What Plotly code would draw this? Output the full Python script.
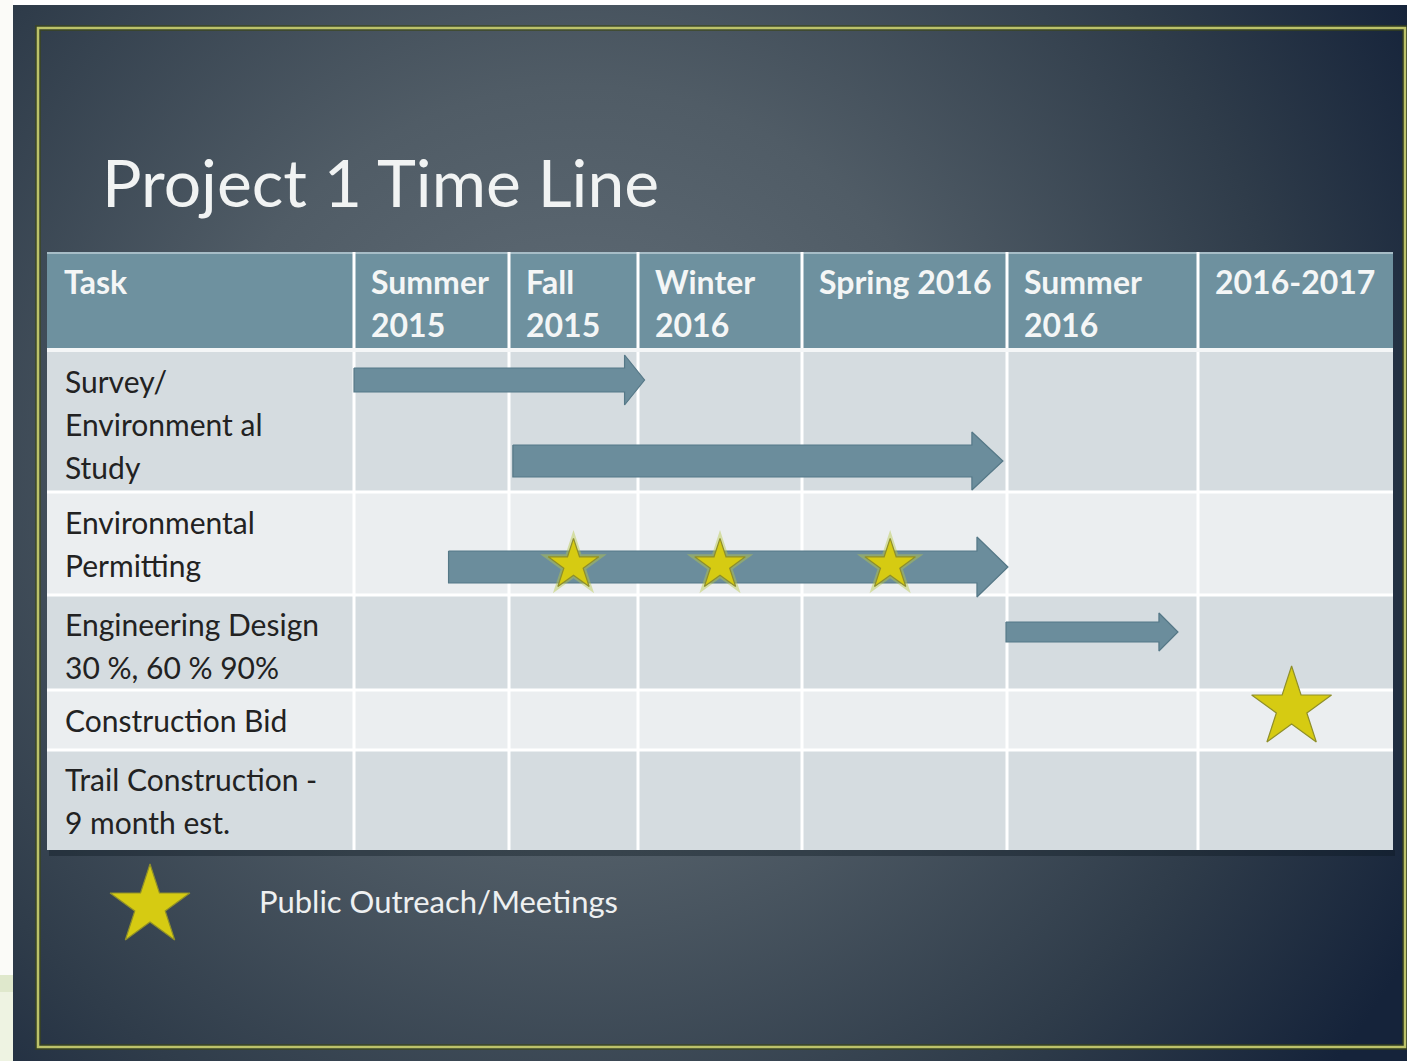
import base64
import plotly.graph_objects as go

# ---------------- data ----------------
title_text = "Project 1 Time Line"
header_task = "Task"
periods = ["Summer<br>2015", "Fall<br>2015", "Winter<br>2016", "Spring 2016", "Summer<br>2016", "2016-2017"]
tasks = [
    "Survey/<br>Environment al<br>Study",
    "Environmental<br>Permitting",
    "Engineering Design<br>30 %, 60 % 90%",
    "Construction Bid",
    "Trail Construction -<br>9 month est.",
]
# arrows: task row index, start period, end period (period units: 0 = start of Summer 2015)
arrow_task = [0, 0, 1, 2]
arrow_start = [0.00, 1.03, 0.61, 3.995]
arrow_end = [2.04, 3.98, 4.005, 4.895]
# stars (public outreach / milestones): task row index, period position
star_task = [1, 1, 1, 3]
star_period = [1.50, 2.50, 3.43, 5.48]
legend_label = "Public Outreach/Meetings"

# ---------------- layout constants (pixels) ----------------
W, H = 1407, 1061
TASK_X0 = 47
COL_EDGES = [354, 509, 638, 802, 1007, 1198, 1393]
HEAD_Y0, HEAD_Y1 = 252, 350
ROW_EDGES = [350, 492, 595, 690, 750, 850]
ROW_COLORS = ["#d5dce0", "#ebeef0", "#d5dce0", "#ebeef0", "#d5dce0"]
ROW_FIRST_LINE_Y = [381, 522, 624, 720, 779]
LINE_STEP = 43
HEAD_LINE_Y = [281, 324]

ARROW_YC = [380, 461, 567, 632]
ARROW_SHAFT = [12, 16, 16, 10]
ARROW_HEAD = [25, 29, 30, 19]
ARROW_HLEN = [20, 31, 31, 19]
STAR_Y = [565, 565, 565, 708]
STAR_SIZE = [38, 38, 38, 60]

ARROW_FILL = "#6b8d9c"
ARROW_LINE = "#557887"
STAR_FILL = "#d6cb12"
STAR_LINE = "#8f8f2a"
FONT = "Lato"


def period_x(p):
    i = min(int(p), len(COL_EDGES) - 2)
    f = p - i
    return COL_EDGES[i] + f * (COL_EDGES[i + 1] - COL_EDGES[i])


fig = go.Figure()

# background gradient (slide look)
svg = f"""<svg xmlns='http://www.w3.org/2000/svg' width='{W}' height='{H}' viewBox='0 0 {W} {H}' preserveAspectRatio='none'>
<defs><radialGradient id='g' gradientUnits='userSpaceOnUse' cx='580' cy='470' r='960'>
<stop offset='0' stop-color='#64707a'/><stop offset='0.4' stop-color='#505c66'/>
<stop offset='0.75' stop-color='#2f3c4a'/><stop offset='1' stop-color='#15233a'/></radialGradient></defs>
<rect x='0' y='0' width='{W}' height='{H}' fill='url(#g)'/></svg>"""
src = "data:image/svg+xml;base64," + base64.b64encode(svg.encode()).decode()
fig.add_layout_image(source=src, xref="paper", yref="paper", x=0, y=1, sizex=1, sizey=1,
                     sizing="stretch", layer="below", xanchor="left", yanchor="top")

shapes = []
# white edges and corner tint
shapes.append(dict(type="rect", x0=0, x1=W, y0=0, y1=5, fillcolor="white", line_width=0, layer="below"))
shapes.append(dict(type="rect", x0=0, x1=13, y0=0, y1=H, fillcolor="#fbfbf8", line_width=0, layer="below"))
shapes.append(dict(type="rect", x0=0, x1=13, y0=975, y1=992, fillcolor="#dfe8cc", line_width=0, layer="below"))
shapes.append(dict(type="rect", x0=0, x1=13, y0=992, y1=H, fillcolor="#eef3e2", line_width=0, layer="below"))
# yellow frame (with soft olive glow)
shapes.append(dict(type="rect", x0=38, x1=1405, y0=28, y1=1047, fillcolor="rgba(0,0,0,0)",
                   line=dict(color="rgba(60,70,20,0.6)", width=6), layer="below"))
shapes.append(dict(type="rect", x0=38, x1=1405, y0=28, y1=1047, fillcolor="rgba(0,0,0,0)",
                   line=dict(color="#bcc26a", width=2.5), layer="below"))
# table shadow
shapes.append(dict(type="rect", x0=TASK_X0 + 2, x1=COL_EDGES[-1] + 2, y0=ROW_EDGES[-1], y1=ROW_EDGES[-1] + 6,
                   fillcolor="rgba(10,20,30,0.35)", line_width=0, layer="below"))
# header
shapes.append(dict(type="rect", x0=TASK_X0, x1=COL_EDGES[-1], y0=HEAD_Y0, y1=HEAD_Y1,
                   fillcolor="#6e919f", line_width=0, layer="below"))
shapes.append(dict(type="line", x0=TASK_X0, x1=COL_EDGES[-1], y0=HEAD_Y0 + 1, y1=HEAD_Y0 + 1,
                   line=dict(color="#a7bdc7", width=2), layer="below"))
# rows
for r in range(len(tasks)):
    shapes.append(dict(type="rect", x0=TASK_X0, x1=COL_EDGES[-1], y0=ROW_EDGES[r], y1=ROW_EDGES[r + 1],
                       fillcolor=ROW_COLORS[r], line_width=0, layer="below"))
# separators
for xe in COL_EDGES[:-1]:
    shapes.append(dict(type="line", x0=xe, x1=xe, y0=HEAD_Y0, y1=ROW_EDGES[-1],
                       line=dict(color="white", width=3), layer="below"))
shapes.append(dict(type="line", x0=TASK_X0, x1=COL_EDGES[-1], y0=HEAD_Y1, y1=HEAD_Y1,
                   line=dict(color="#f4f6f7", width=4), layer="below"))
for ye in ROW_EDGES[1:-1]:
    shapes.append(dict(type="line", x0=TASK_X0, x1=COL_EDGES[-1], y0=ye, y1=ye,
                       line=dict(color="white", width=3), layer="below"))

# arrows
for k in range(len(arrow_task)):
    x0 = period_x(arrow_start[k])
    x1 = period_x(arrow_end[k])
    yc, hs, hh, L = ARROW_YC[k], ARROW_SHAFT[k], ARROW_HEAD[k], ARROW_HLEN[k]
    xs = [x0, x1 - L, x1 - L, x1, x1 - L, x1 - L, x0, x0]
    ys = [yc - hs, yc - hs, yc - hh, yc, yc + hh, yc + hs, yc + hs, yc - hs]
    fig.add_trace(go.Scatter(x=xs, y=ys, mode="lines", fill="toself", fillcolor=ARROW_FILL,
                             line=dict(color=ARROW_LINE, width=1.2), hoverinfo="skip", showlegend=False))

# stars (each drawn as its own opaque marker)
for i, p in enumerate(star_period):
    x = period_x(p)
    if STAR_SIZE[i] < 50:
        fig.add_trace(go.Scatter(x=[x], y=[STAR_Y[i]], mode="markers", opacity=1,
                                 marker=dict(symbol="star", size=STAR_SIZE[i] + 12,
                                             color="rgba(185,200,70,0.45)", line_width=0),
                                 hoverinfo="skip", showlegend=False))
    fig.add_trace(go.Scatter(x=[x], y=[STAR_Y[i]], mode="markers", opacity=1,
                             marker=dict(symbol="star", size=STAR_SIZE[i], color=STAR_FILL, opacity=1,
                                         line=dict(color=STAR_LINE, width=1.2)),
                             hoverinfo="skip", showlegend=False))
# legend star
fig.add_trace(go.Scatter(x=[150], y=[906], mode="markers", opacity=1,
                         marker=dict(symbol="star", size=60, color=STAR_FILL, opacity=1,
                                     line=dict(color=STAR_LINE, width=1.2)),
                         hoverinfo="skip", showlegend=False))

annotations = []
annotations.append(dict(text=title_text, x=100, y=181, xanchor="left", yanchor="middle", showarrow=False,
                        font=dict(family=FONT, size=66, color="#f1f3f3")))
# header
head_cells = [header_task] + periods
head_x = [TASK_X0] + COL_EDGES[:-1]
for lab, hx in zip(head_cells, head_x):
    for j, line in enumerate(lab.split("<br>")):
        annotations.append(dict(text="<b>" + line + "</b>", x=hx + 15, y=HEAD_LINE_Y[j], xanchor="left",
                                yanchor="middle", showarrow=False,
                                font=dict(family=FONT, size=32, color="#f4f6f6")))
# task labels
for r, lab in enumerate(tasks):
    for j, line in enumerate(lab.split("<br>")):
        annotations.append(dict(text=line, x=TASK_X0 + 16, y=ROW_FIRST_LINE_Y[r] + j * LINE_STEP,
                                xanchor="left", yanchor="middle", showarrow=False,
                                font=dict(family=FONT, size=30, color="#222222")))
annotations.append(dict(text=legend_label, x=257, y=901, xanchor="left", yanchor="middle", showarrow=False,
                        font=dict(family=FONT, size=31, color="#eef0f1")))

fig.update_layout(
    width=W, height=H, margin=dict(l=0, r=0, t=0, b=0),
    paper_bgcolor="#2a3746", plot_bgcolor="rgba(0,0,0,0)",
    xaxis=dict(range=[0, W], visible=False, fixedrange=True),
    yaxis=dict(range=[H, 0], visible=False, fixedrange=True),
    shapes=shapes, annotations=annotations, showlegend=False,
)

fig.write_html("out.html", config={"displayModeBar": False, "staticPlot": True},
               post_script="document.body.style.margin='0';document.body.style.padding='0';"
                           "document.documentElement.style.overflow='hidden';")
